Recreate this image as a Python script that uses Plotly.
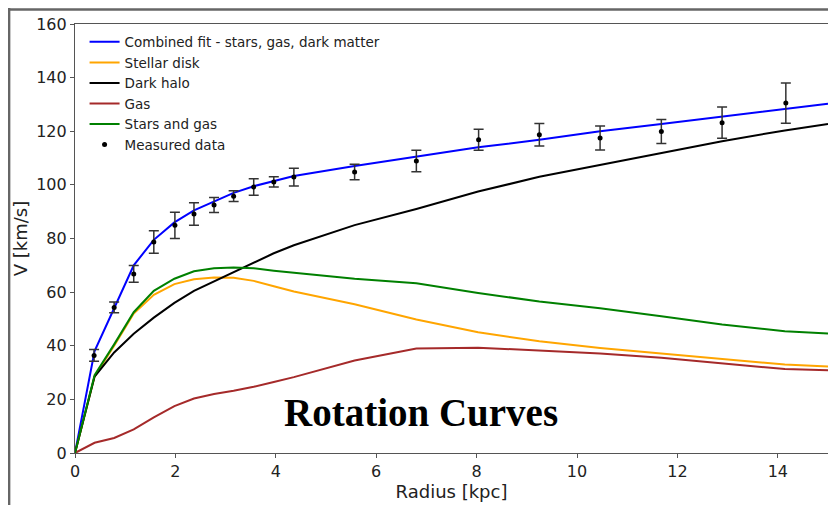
import plotly.graph_objects as go

# Model curve radii (kpc)
radius = [0, 0.39, 0.78, 1.17, 1.57, 1.98, 2.37, 2.77, 3.16, 3.56, 3.96, 4.36,
          5.57, 6.80, 8.03, 9.25, 10.46, 11.68, 12.89, 14.14, 15.0]
combined = [0, 38, 54, 70, 79.5, 86, 90.5, 93.8, 97, 99.5, 101.5, 103.3,
            107, 110.6, 114, 116.8, 120, 122.7, 125.5, 128.3, 130.3]
stellar = [0, 28.5, 40, 52, 59, 63, 64.8, 65.5, 65.4, 64.2, 62.2, 60.2,
           55.5, 49.8, 45, 41.7, 39.2, 37.1, 34.9, 33, 32.3]
halo = [0, 28.5, 37.5, 44.5, 50.5, 56, 60.5, 64, 67.5, 71, 74.5, 77.5,
        85, 91, 97.5, 103, 107.5, 112, 116.3, 120.3, 122.7]
gas = [0, 3.8, 5.6, 8.8, 13.3, 17.5, 20.3, 22, 23.2, 24.7, 26.5, 28.3,
       34.5, 39, 39.3, 38.3, 37.1, 35.5, 33.4, 31.3, 30.9]
stars_gas = [0, 29, 40.5, 52.5, 60.5, 65, 67.8, 68.9, 69.2, 68.9, 68, 67.2,
             65, 63.3, 59.7, 56.5, 54, 51, 47.9, 45.4, 44.6]

# Measured data
data_r = [0.38, 0.78, 1.17, 1.57, 1.99, 2.37, 2.77, 3.16, 3.56, 3.96, 4.36,
          5.57, 6.80, 8.04, 9.25, 10.46, 11.68, 12.89, 14.16]
data_v = [36.4, 54.3, 66.8, 78.7, 84.9, 89.1, 92.5, 95.8, 99.2, 101.1, 102.9,
          104.8, 108.9, 116.8, 118.7, 117.5, 119.9, 123.2, 130.5]
data_err = [2.2, 2.0, 3.1, 4.2, 4.9, 4.2, 2.8, 2.0, 3.1, 1.9, 3.3,
            2.9, 4.0, 3.9, 4.2, 4.5, 4.5, 5.8, 7.5]

x_ticks = [0, 2, 4, 6, 8, 10, 12, 14]
y_ticks = [0, 20, 40, 60, 80, 100, 120, 140, 160]

fig = go.Figure()

series = [
    ("Combined fit - stars, gas, dark matter", combined, "#0000ff"),
    ("Stellar disk", stellar, "#ffa500"),
    ("Dark halo", halo, "#000000"),
    ("Gas", gas, "#a52a2a"),
    ("Stars and gas", stars_gas, "#008000"),
]
for i, (name, vals, col) in enumerate(series):
    fig.add_trace(go.Scatter(x=radius, y=vals, mode="lines", name=name,
                             line=dict(color=col, width=2),
                             legendgroup=f"g{i}"))

fig.add_trace(go.Scatter(
    x=data_r, y=data_v, mode="markers", name="Measured data",
    marker=dict(color="black", size=5),
    error_y=dict(type="data", array=data_err, visible=True,
                 color="#333333", thickness=1.5, width=5),
    legendgroup="g5"))

axis_common = dict(showline=True, linecolor="#555555", linewidth=1.2, mirror=True,
                   ticks="outside", ticklen=4, tickcolor="#555555",
                   showgrid=False, zeroline=False,
                   tickfont=dict(family="DejaVu Sans", size=16, color="#222222"))

fig.update_layout(
    width=828, height=497,
    margin=dict(l=67, r=7, t=15, b=51),
    paper_bgcolor="white", plot_bgcolor="white",
    showlegend=True,
    legend=dict(x=0.0127, y=0.994, xanchor="left", yanchor="top",
                bgcolor="rgba(255,255,255,0)", borderwidth=0,
                tracegroupgap=0,
                font=dict(family="DejaVu Sans", size=13.5, color="#222222")),
    xaxis=dict(range=[0, 15], tickvals=x_ticks,
               title=dict(text="Radius [kpc]", standoff=4,
                          font=dict(family="DejaVu Sans", size=18, color="#222222")),
               **axis_common),
    yaxis=dict(range=[0, 160], tickvals=y_ticks,
               title=dict(text="V [km/s]", standoff=3,
                          font=dict(family="DejaVu Sans", size=18, color="#222222")),
               **axis_common),
    annotations=[dict(text="<b>Rotation Curves</b>", x=0.4595, y=0.04,
                      xref="paper", yref="paper", showarrow=False,
                      font=dict(family="Liberation Serif", size=39, color="black"))],
    shapes=[
        dict(type="line", xref="paper", yref="paper", x0=-0.1, x1=1.02,
             y0=1.0336, y1=1.0336, line=dict(color="#666666", width=2.5)),
        dict(type="line", xref="paper", yref="paper", x0=-0.0875, x1=-0.0875,
             y0=-0.13, y1=1.04, line=dict(color="#666666", width=2.5)),
    ],
)

fig.write_html("out.html")
